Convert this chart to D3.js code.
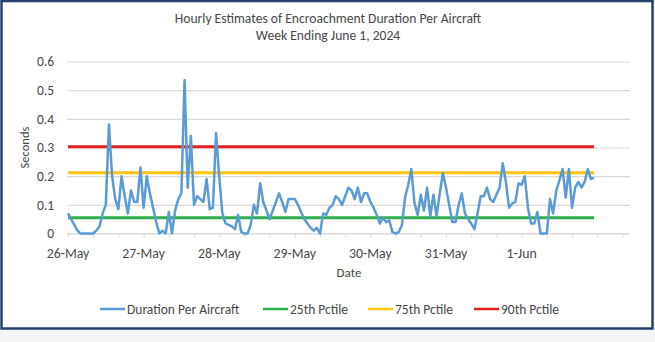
<!DOCTYPE html>
<html>
<head>
<meta charset="utf-8">
<script src="https://cdn.jsdelivr.net/npm/d3@7"></script>
<style>
  body { margin: 0; background: #f4f5f7; }
  text { font-family: Calibri, Carlito, Lato, sans-serif; fill: #474747; }
</style>
</head>
<body>
<div id="chart"></div>
<script>
// hourly values, one array per day (seconds)
var may26 = [0.07,0.05,0.03,0.01,0,0,0,0,0,0.01,0.025,0.07,0.1,0.38,0.2,0.12,0.085,0.2,0.13,0.07,0.15,0.11,0.11,0.23];
var may27 = [0.09,0.2,0.14,0.09,0.04,0,0.01,0,0.075,0,0.08,0.12,0.14,0.535,0.16,0.34,0.1,0.13,0.12,0.11,0.19,0.085,0.09,0.35];
var may28 = [0.2,0.07,0.035,0.03,0.025,0.015,0.065,0.005,0,0,0.03,0.1,0.07,0.175,0.11,0.08,0.05,0.08,0.11,0.14,0.11,0.075,0.12,0.12];
var may29 = [0.12,0.1,0.075,0.05,0.035,0.02,0.01,0.02,0,0.07,0.065,0.09,0.1,0.13,0.12,0.1,0.13,0.16,0.15,0.12,0.16,0.11,0.14,0.14];
var may30 = [0.11,0.09,0.065,0.035,0.055,0.04,0.045,0.005,0,0.005,0.03,0.125,0.17,0.225,0.105,0.065,0.135,0.08,0.16,0.06,0.135,0.06,0.14,0.21];
var may31 = [0.16,0.1,0.04,0.04,0.1,0.14,0.07,0.05,0.035,0.015,0.07,0.13,0.13,0.16,0.12,0.11,0.135,0.16,0.245,0.18,0.09,0.105,0.11,0.175];
var jun1  = [0.17,0.2,0.09,0.035,0.035,0.075,0,0,0,0.12,0.07,0.15,0.185,0.225,0.125,0.225,0.09,0.16,0.18,0.16,0.18,0.225,0.19,0.195];

var dayLabels = ['26-May','27-May','28-May','29-May','30-May','31-May','1-Jun'];
var yTicks = [0, 0.1, 0.2, 0.3, 0.4, 0.5, 0.6];
var pctNames = ['25th Pctile','75th Pctile','90th Pctile'];
var pctValues = [0.055, 0.212, 0.303];
var seriesName = 'Duration Per Aircraft';

var hourly = [].concat(may26, may27, may28, may29, may30, may31, jun1);

var W = 655, H = 342;
var plot = { left: 68, right: 630, top: 61.5, bottom: 233.5 };
var colors = { line: '#5b9bd5', p25: '#2db04b', p75: '#ffc20e', p90: '#e0201f', grid: '#d9d9d9' };
var pctColors = [colors.p25, colors.p75, colors.p90];

var x = d3.scaleLinear().domain([0, 178.4]).range([plot.left, plot.right]);
var y = d3.scaleLinear().domain([0, 0.6]).range([plot.bottom, plot.top]);

var svg = d3.select('#chart').append('svg')
    .attr('width', W)
    .attr('height', H);

svg.append('rect')
    .attr('x', 1.5).attr('y', 1)
    .attr('width', 651).attr('height', 327.5)
    .attr('fill', '#fff')
    .attr('stroke', '#24406e')
    .attr('stroke-width', 2.5);

// title
svg.append('text')
    .attr('x', 328).attr('y', 23)
    .attr('text-anchor', 'middle')
    .style('font-size', '13.6px')
    .text('Hourly Estimates of Encroachment Duration Per Aircraft');
svg.append('text')
    .attr('x', 328).attr('y', 39.5)
    .attr('text-anchor', 'middle')
    .style('font-size', '13.6px')
    .text('Week Ending June 1, 2024');

// gridlines
var yAxis = d3.axisLeft(y)
    .tickValues(yTicks)
    .tickSize(-(plot.right - plot.left + 1))
    .tickPadding(13)
    .tickFormat(function(d) { return d === 0 ? '0' : d3.format('.1f')(d); });

var gy = svg.append('g')
    .attr('transform', 'translate(' + (plot.left - 1) + ',0)')
    .call(yAxis);
gy.select('.domain').remove();
gy.selectAll('line').attr('stroke', colors.grid).attr('stroke-width', 1.2);
gy.selectAll('text').style('font-size', '13.5px');

// x axis: tick marks every 8 hours, labels every 24
var xAxis = d3.axisBottom(x)
    .tickValues(d3.range(0, 179, 8))
    .tickSize(4)
    .tickFormat('');
var gx = svg.append('g')
    .attr('transform', 'translate(0,' + plot.bottom + ')')
    .call(xAxis);
gx.select('.domain').attr('stroke', colors.grid).attr('stroke-width', 1.2)
    .attr('d', 'M' + (plot.left - 1) + ',0H' + plot.right);
gx.selectAll('line').attr('stroke', colors.grid);

svg.append('g').selectAll('text')
    .data(dayLabels)
  .enter().append('text')
    .attr('x', function(d, i) { return x(i * 24); })
    .attr('y', plot.bottom + 24)
    .attr('text-anchor', 'middle')
    .style('font-size', '13.8px')
    .text(function(d) { return d; });

svg.append('text')
    .attr('x', (plot.left + plot.right) / 2)
    .attr('y', 277)
    .attr('text-anchor', 'middle')
    .style('font-size', '13px')
    .text('Date');

svg.append('text')
    .attr('transform', 'translate(29,' + ((plot.top + plot.bottom) / 2) + ') rotate(-90)')
    .attr('text-anchor', 'middle')
    .style('font-size', '12.5px')
    .text('Seconds');

// percentile lines
svg.append('g').selectAll('line')
    .data(pctValues)
  .enter().append('line')
    .attr('x1', x(0))
    .attr('x2', x(hourly.length - 1))
    .attr('y1', function(d) { return y(d); })
    .attr('y2', function(d) { return y(d); })
    .attr('stroke', function(d, i) { return pctColors[i]; })
    .attr('stroke-width', 3);

// hourly series
var line = d3.line()
    .x(function(d, i) { return x(i); })
    .y(function(d) { return y(d); });

svg.append('path')
    .datum(hourly)
    .attr('d', line)
    .attr('fill', 'none')
    .attr('stroke', colors.line)
    .attr('stroke-width', 2.5)
    .attr('stroke-linejoin', 'round');

// legend
var legendItems = [{ name: seriesName, color: colors.line }].concat(
    pctNames.map(function(n, i) { return { name: n, color: pctColors[i] }; }));
var legendX = [100, 263, 368, 474];

var legend = svg.append('g').selectAll('g')
    .data(legendItems)
  .enter().append('g')
    .attr('transform', function(d, i) { return 'translate(' + legendX[i] + ',309)'; });

legend.append('line')
    .attr('x1', 0).attr('x2', 25)
    .attr('stroke', function(d) { return d.color; })
    .attr('stroke-width', 2.5);

legend.append('text')
    .attr('x', 27)
    .attr('dy', '0.35em')
    .style('font-size', '13.5px')
    .text(function(d) { return d.name; });
</script>
</body>
</html>
